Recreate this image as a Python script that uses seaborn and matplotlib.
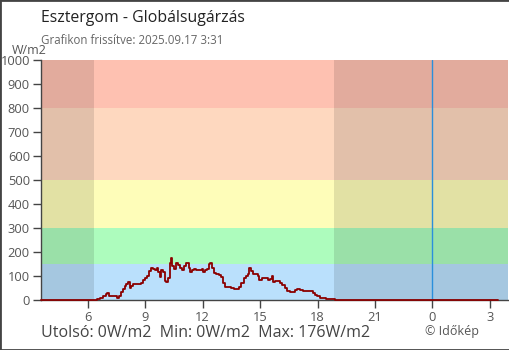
import seaborn as sns
import matplotlib.pyplot as plt
from matplotlib.patches import Rectangle
import pandas as pd

# radiation readings (hour of day, W/m2); hours past 24 = next day
hours = [3.57, 6.12, 6.29, 6.47, 6.64, 6.81, 6.95, 7.02, 7.13, 7.25, 7.42, 7.54, 7.65, 7.77,
         7.86, 7.94, 8.03, 8.13, 8.20, 8.29, 8.38, 8.55, 8.72, 8.81, 8.90, 9.00, 9.11, 9.21,
         9.31, 9.42, 9.52, 9.63, 9.70, 9.77, 9.85, 9.94, 10.04, 10.11, 10.22, 10.29, 10.36,
         10.43, 10.53, 10.63, 10.74, 10.84, 10.91, 11.02, 11.12, 11.22, 11.29, 11.36, 11.47,
         11.57, 11.68, 11.85, 11.95, 12.02, 12.13, 12.23, 12.34, 12.41, 12.47, 12.58, 12.72,
         12.86, 12.96, 13.06, 13.17, 13.31, 13.48, 13.65, 13.79, 13.90, 14.02, 14.14, 14.25,
         14.35, 14.45, 14.52, 14.63, 14.77, 14.87, 14.97, 15.11, 15.25, 15.39, 15.50, 15.60,
         15.67, 15.77, 15.88, 16.02, 16.15, 16.29, 16.43, 16.57, 16.71, 16.85, 16.95, 17.06,
         17.23, 17.40, 17.58, 17.75, 17.89, 17.99, 18.13, 18.27, 18.45, 18.62, 18.76, 18.90,
         19.05, 27.40]
values = [0, 0, 0, 4, 8, 15, 25, 28, 18, 17, 17, 10, 18, 33,
          45, 60, 68, 75, 50, 58, 65, 67, 67, 72, 85, 92, 100, 122,
          132, 130, 125, 133, 115, 95, 125, 118, 80, 75, 90, 155, 176,
          140, 130, 155, 145, 135, 125, 140, 155, 155, 135, 115, 125,
          128, 125, 125, 130, 118, 126, 130, 150, 155, 135, 112, 108,
          103, 95, 70, 55, 53, 48, 47, 45, 55, 70, 90, 100,
          110, 135, 120, 110, 108, 100, 85, 90, 93, 85, 88, 98,
          75, 80, 78, 72, 62, 50, 36, 32, 35, 40, 45, 40,
          38, 36, 36, 30, 22, 15, 10, 8, 6, 5, 3, 1,
          0, 0]

# intensity bands
band_edges = [0, 150, 300, 500, 800, 1000]
band_colors = ['#bae0fc', '#adfcbd', '#fefdb9', '#fed8bf', '#fec1b1']

sunrise, sunset = 6.36, 18.86
x_start, x_end = 3.57, 27.94
midnight = 24
xticks = [6, 9, 12, 15, 18, 21, 24, 27]
xtick_labels = ['6', '9', '12', '15', '18', '21', '0', '3']

df = pd.DataFrame({'hour': hours, 'value': values})

sns.set_theme(style='white')
plt.rcParams['font.family'] = ['Open Sans', 'DejaVu Sans']

fig = plt.figure(figsize=(5.1, 3.5), dpi=100)
ax = fig.add_axes([41 / 510, 50 / 350, 467 / 510, 240 / 350])

for lo, hi, c in zip(band_edges[:-1], band_edges[1:], band_colors):
    ax.axhspan(lo, hi, color=c, lw=0, zorder=0)
ax.axvspan(x_start, sunrise, color='black', alpha=0.11, lw=0, zorder=1)
ax.axvspan(sunset, x_end, color='black', alpha=0.11, lw=0, zorder=1)
ax.axvline(midnight, color='#2a8fdc', lw=1, zorder=2)

sns.lineplot(data=df, x='hour', y='value', drawstyle='steps-post', color='#8b0000',
             lw=1.3, ax=ax, zorder=3, clip_on=False)

ax.set_xlim(x_start, x_end)
ax.set_ylim(0, 1000)
ax.set_xticks(xticks)
ax.set_xticklabels(xtick_labels)
ax.set_yticks(range(0, 1001, 100))
ax.tick_params(axis='both', direction='out', length=6, width=1, color='#444444',
               labelcolor='#555555', labelsize=9.3, pad=2, bottom=True, left=True)
ax.set_xlabel('')
ax.set_ylabel('')
for s in ['top', 'right']:
    ax.spines[s].set_visible(False)
for s in ['left', 'bottom']:
    ax.spines[s].set_color('#444444')
    ax.spines[s].set_linewidth(1)

fig.text(41 / 510, 1 - 18 / 350, 'Esztergom - Globálsugárzás', fontsize=11.4, color='#222222', va='center')
fig.text(41 / 510, 1 - 40 / 350, 'Grafikon frissítve: 2025.09.17 3:31', fontsize=8.3, color='#666666', va='center')
fig.text(12 / 510, 1 - 51 / 350, 'W/m2', fontsize=9, color='#555555', va='center')
fig.text(41 / 510, 1 - 333 / 350, 'Utolsó: 0W/m2  Min: 0W/m2  Max: 176W/m2', fontsize=11.5,
         color='#444444', va='center')
fig.text(425 / 510, 1 - 332 / 350, '© Időkép', fontsize=9, color='#555555', va='center')

fig.patches.append(Rectangle((0, 0), 1, 1, transform=fig.transFigure, fill=False,
                             edgecolor='#444444', lw=2))

fig.savefig('out.png', dpi=100)
